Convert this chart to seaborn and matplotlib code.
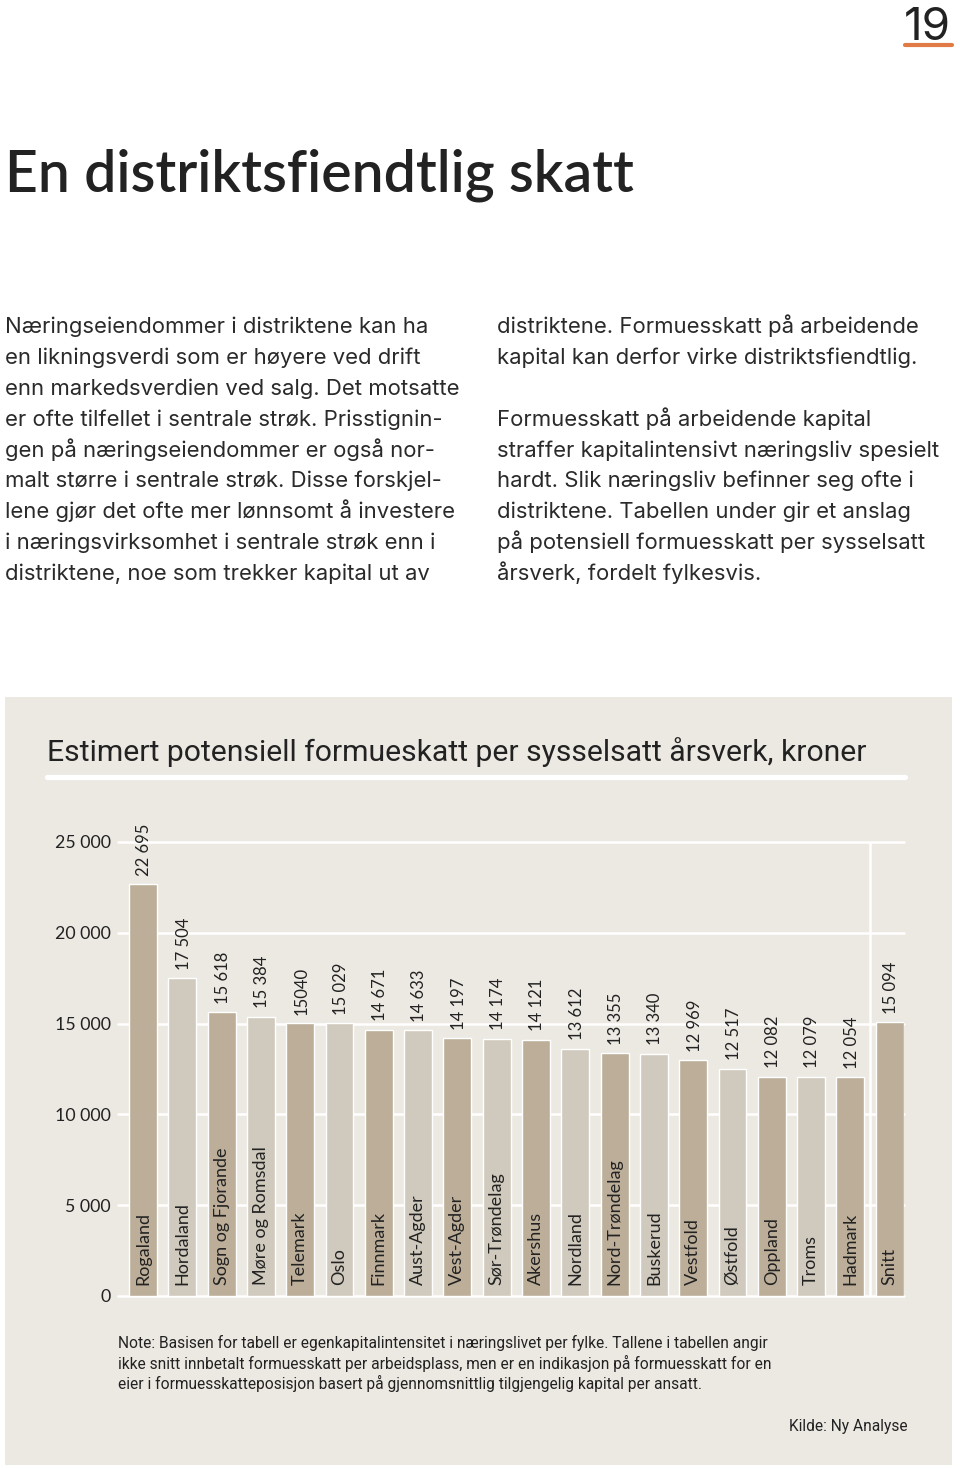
import numpy as np
import pandas as pd
import seaborn as sns
import matplotlib.pyplot as plt
from matplotlib.patches import Rectangle
from matplotlib.lines import Line2D

# Data
fylker = ['Rogaland', 'Hordaland', 'Sogn og Fjorande', 'Møre og Romsdal', 'Telemark',
          'Oslo', 'Finnmark', 'Aust-Agder', 'Vest-Agder', 'Sør-Trøndelag', 'Akershus',
          'Nordland', 'Nord-Trøndelag', 'Buskerud', 'Vestfold', 'Østfold', 'Oppland',
          'Troms', 'Hadmark', 'Snitt']
skatt = [22695, 17504, 15618, 15384, 15040, 15029, 14671, 14633, 14197, 14174,
         14121, 13612, 13355, 13340, 12969, 12517, 12082, 12079, 12054, 15094]
verdi_tekst = ['22 695', '17 504', '15 618', '15 384', '15040', '15 029', '14 671',
               '14 633', '14 197', '14 174', '14 121', '13 612', '13 355', '13 340',
               '12 969', '12 517', '12 082', '12 079', '12 054', '15 094']
y_ticks = [0, 5000, 10000, 15000, 20000, 25000]
y_tick_labels = ['0', '5 000', '10 000', '15 000', '20 000', '25 000']

# Colours
DARK = '#BCAE99'
LIGHT = '#D0C9BD'
PANEL = '#ECE9E3'
TXT = '#222222'
bar_colors = [DARK if i % 2 == 0 else LIGHT for i in range(len(fylker) - 1)] + [DARK]

body_left = [
    'Næringseiendommer i distriktene kan ha',
    'en likningsverdi som er høyere ved drift',
    'enn markedsverdien ved salg. Det motsatte',
    'er ofte tilfellet i sentrale strøk. Prisstignin-',
    'gen på næringseiendommer er også nor-',
    'malt større i sentrale strøk. Disse forskjel-',
    'lene gjør det ofte mer lønnsomt å investere',
    'i næringsvirksomhet i sentrale strøk enn i',
    'distriktene, noe som trekker kapital ut av',
]
body_right = [
    'distriktene. Formuesskatt på arbeidende',
    'kapital kan derfor virke distriktsfiendtlig.',
    '',
    'Formuesskatt på arbeidende kapital',
    'straffer kapitalintensivt næringsliv spesielt',
    'hardt. Slik næringsliv befinner seg ofte i',
    'distriktene. Tabellen under gir et anslag',
    'på potensiell formuesskatt per sysselsatt',
    'årsverk, fordelt fylkesvis.',
]
note = ('Note: Basisen for tabell er egenkapitalintensitet i næringslivet per fylke. Tallene i tabellen angir\n'
        'ikke snitt innbetalt formuesskatt per arbeidsplass, men er en indikasjon på formuesskatt for en\n'
        'eier i formuesskatteposisjon basert på gjennomsnittlig tilgjengelig kapital per ansatt.')

sns.set_theme(style='white')
plt.rcParams['font.family'] = ['Lato', 'DejaVu Sans']
BODY = ['Inter', 'DejaVu Sans']
COND = ['Roboto', 'DejaVu Sans']

W, H = 960, 1469
fig = plt.figure(figsize=(W / 100, H / 100), dpi=100)
fig.patch.set_facecolor('white')

def fx(px):
    return px / W

def fy(py):
    return 1 - py / H

# page number + orange rule
fig.text(fx(951), fy(40), '19', ha='right', va='baseline', fontsize=33,
         color=TXT, family=BODY)
fig.add_artist(Line2D([fx(905), fx(952)], [fy(45), fy(45)], color='#E07B45', lw=3))

# page title
fig.text(fx(5), fy(191), 'En distriktsfiendtlig skatt', ha='left', va='baseline',
         fontsize=41, color=TXT, fontweight='semibold')

# body text, two columns
for i, line in enumerate(body_left):
    fig.text(fx(5), fy(333 + i * 30.9), line, ha='left', va='baseline', fontsize=15.9,
             color='#2a2a2a', family=BODY)
for i, line in enumerate(body_right):
    fig.text(fx(497), fy(333 + i * 30.9), line, ha='left', va='baseline', fontsize=15.9,
             color='#2a2a2a', family=BODY)

# chart panel
fig.add_artist(Rectangle((fx(5), fy(1465)), fx(947), (1465 - 697) / H,
                         facecolor=PANEL, edgecolor='none', zorder=0))
fig.text(fx(47), fy(752), 'Estimert potensiell formueskatt per sysselsatt årsverk, kroner',
         ha='left', va='center', fontsize=21.7, color=TXT, family=COND)
fig.add_artist(Line2D([fx(47), fx(905)], [fy(777), fy(777)], color='white', lw=3.8))

ax = fig.add_axes([fx(118), fy(1296), fx(903.7) - fx(118), (1296 - 842) / H])
ax.set_facecolor(PANEL)
ax.patch.set_alpha(0)

df = pd.DataFrame({'fylke': fylker, 'skatt': skatt})
sns.barplot(data=df, x='fylke', y='skatt', hue='fylke', palette=bar_colors,
            legend=False, width=0.712, saturation=1, ax=ax, zorder=3)

ax.set_xlim(-0.636, 19.356)
ax.set_ylim(0, 25000)
ax.set_yticks(y_ticks)
ax.set_yticklabels(y_tick_labels, fontsize=12.8, color=TXT)
ax.set_xticks([])
ax.set_xlabel('')
ax.set_ylabel('')
ax.tick_params(axis='y', length=0, pad=5)
for s in ax.spines.values():
    s.set_visible(False)
for t in y_ticks:
    ax.axhline(t, color='white', lw=1.8, zorder=1, clip_on=False)
ax.axvline(18.5, color='white', lw=1.8, zorder=1)

for i, (v, lab) in enumerate(zip(skatt, verdi_tekst)):
    ax.annotate(lab, (i, v), xytext=(1, 6), textcoords='offset points', rotation=90,
                ha='center', va='bottom', fontsize=12, color=TXT,
                annotation_clip=False)
    ax.text(i, 600, fylker[i], rotation=90, ha='center', va='bottom',
            fontsize=13, color=TXT, zorder=4)

fig.text(fx(118), fy(1335), note, ha='left', va='top', fontsize=11.2, color=TXT,
         linespacing=1.25, family=COND)
fig.text(fx(908), fy(1426), 'Kilde: Ny Analyse', ha='right', va='center', fontsize=11.2,
         color=TXT, family=COND)

fig.savefig('out.png', dpi=100, facecolor='white')
